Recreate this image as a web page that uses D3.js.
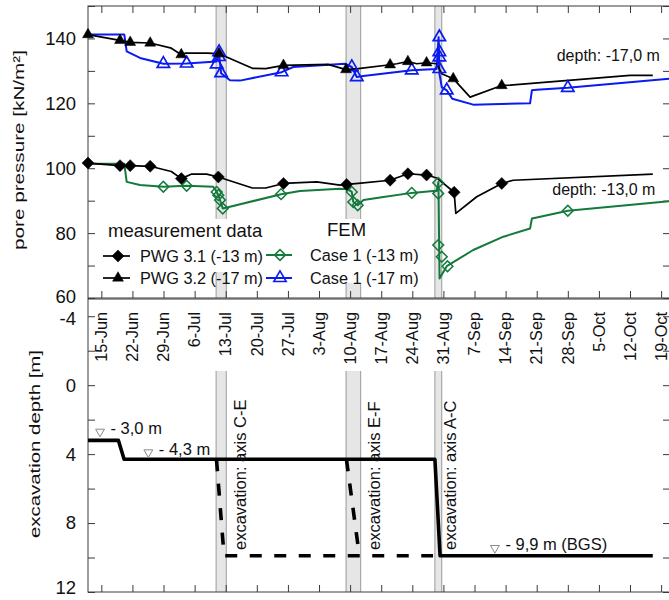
<!DOCTYPE html>
<html><head><meta charset="utf-8">
<script src="https://cdn.jsdelivr.net/npm/d3@7"></script>
<style>
body{margin:0;background:#fff;}
svg{display:block;font-family:"Liberation Sans",Arial,sans-serif;}
</style></head><body>
<svg id="c" width="669" height="600"></svg>
<script>
const YEAR = "2009";
// ---------- axis / tick data ----------
const xDomain = ["06-12 00", "10-21 00"];
const weekLabels = ["15-Jun","22-Jun","29-Jun","6-Jul","13-Jul","20-Jul","27-Jul","3-Aug","10-Aug","17-Aug","24-Aug","31-Aug","7-Sep","14-Sep","21-Sep","28-Sep","5-Oct","12-Oct","19-Oct"];
const topTicks = [60,70,80,90,100,110,120,130,140,150];
const topTickLabels = [60,80,100,120,140];
const botTicks = [-4,-2,0,2,4,6,8,10,12];
const botTickLabels = [-4,0,4,8,12];

// ---------- excavation windows (grey bands) ----------
const bandStart = ["07-10 20","08-09 02","08-29 02"];
const bandEnd   = ["07-13 03","08-12 09","08-30 15"];

// ---------- measurement PWG 3.1 (-13 m) ----------
const pwg31Dates = ["06-12 00","06-19 05","06-21 12","06-26 00","06-30 18","07-03 00","07-05 08","07-08 17","07-11 08","07-19 00","07-22 00","07-26 00","08-02 12","08-07 17","08-09 05","08-11 20","08-19 00","08-23 00","08-27 05","08-29 12","09-02 10","09-02 19","09-07 12","09-13 03","09-15 17","10-17 03"];
const pwg31Values = [101.6,100.8,100.8,100.6,99.0,96.8,98.2,98.2,97.3,93.9,93.9,95.3,95.8,94.8,95.0,95.3,96.3,98.3,97.9,97.0,92.6,86.1,91.2,95.3,96.3,98.2];
const pwg31MarkDates = ["06-12 00","06-19 05","06-21 12","06-26 00","07-03 00","07-11 08","07-26 00","08-09 05","08-19 00","08-23 00","08-27 05","09-02 10","09-13 03"];
const pwg31MarkValues = [101.6,100.8,100.8,100.6,96.8,97.3,95.3,95.0,96.3,98.3,97.9,92.6,95.3];

// ---------- measurement PWG 3.2 (-17 m) ----------
const pwg32Dates = ["06-12 00","06-19 05","06-21 12","06-26 00","06-30 18","07-03 00","07-04 00","07-08 17","07-11 12","07-19 00","07-22 00","07-26 00","08-05 00","08-09 02","08-11 20","08-19 00","08-20 12","08-23 00","08-25 00","08-27 05","08-29 12","08-30 15","09-02 05","09-06 00","09-13 03","09-15 00","10-12 00","10-17 03"];
const pwg32Values = [141.2,139.4,138.8,138.6,137.0,135.0,135.5,135.5,135.3,130.8,130.7,131.7,132.0,130.4,130.7,131.9,132.2,132.9,132.2,132.5,132.2,129.1,127.6,121.9,125.5,125.6,128.6,128.6];
const pwg32MarkDates = ["06-12 00","06-19 05","06-21 12","06-26 00","07-03 00","07-11 12","07-26 00","08-09 02","08-19 00","08-23 00","08-27 05","09-02 05","09-13 03"];
const pwg32MarkValues = [141.2,139.4,138.8,138.6,135.0,135.3,131.7,130.4,131.9,132.9,132.5,127.6,125.5];

// ---------- FEM Case 1 (-13 m) ----------
const fem13Dates = ["06-12 00","06-20 04","06-20 17","06-23 17","06-28 23","07-04 05","07-10 05","07-10 23","07-11 08","07-11 17","07-12 08","07-13 23","07-25 11","07-29 17","08-07 17","08-09 12","08-10 09","08-10 17","08-11 17","08-13 00","08-16 18","08-23 21","08-28 17","08-29 12","08-29 21","08-30 03","08-31 18","09-06 17","09-13 12","09-19 12","09-19 22","09-21 00","09-28 00","10-20 19"];
const fem13Values = [101.4,101.4,95.8,94.8,94.3,94.6,94.3,92.7,91.7,90.2,87.6,88.1,92.0,93.0,93.7,93.5,92.7,89.6,88.6,90.2,91.0,92.4,93.0,93.0,95.8,66.0,69.8,74.8,78.9,81.4,84.5,84.8,86.9,89.8];
const fem13MarkDates = ["06-28 23","07-04 05","07-10 23","07-11 08","07-11 17","07-12 08","07-25 11","08-10 09","08-10 17","08-11 17","08-23 21","08-29 20","08-29 20","08-29 20","08-30 15","08-31 22","09-28 00"];
const fem13MarkValues = [94.3,94.6,92.7,91.7,90.2,87.6,92.0,92.7,89.6,88.6,92.4,95.5,92.2,76.3,72.7,69.8,86.9];

// ---------- FEM Case 1 (-17 m) ----------
const fem17Dates = ["06-12 00","06-20 04","06-20 17","06-23 17","06-28 23","07-04 05","07-10 23","07-11 10","07-11 14","07-11 18","07-11 23","07-13 23","07-16 05","07-25 14","07-28 05","08-08 20","08-10 09","08-11 12","08-12 23","08-23 21","08-29 11","08-29 22","08-30 03","08-30 15","08-31 18","09-02 00","09-06 17","09-19 12","09-19 22","09-21 00","09-28 00","10-20 19"];
const fem17Values = [141.2,141.2,136.0,134.0,132.2,132.3,132.9,135.8,134.3,132.0,129.3,127.1,127.0,129.6,131.2,132.2,131.2,128.1,128.4,130.2,130.6,140.4,129.0,125.0,124.0,121.4,119.6,120.0,124.0,124.2,124.8,127.6];
const fem17MarkDates = ["06-28 23","07-04 05","07-10 23","07-11 12","07-11 12","07-11 23","07-25 14","08-10 09","08-11 12","08-23 21","08-30 02","08-30 02","08-30 02","08-30 02","08-31 18","09-28 00"];
const fem17MarkValues = [132.2,132.3,132.0,135.8,134.3,129.3,129.6,131.2,128.1,130.2,140.4,135.8,134.2,130.6,124.0,124.8];

// ---------- excavation depth ----------
const excDates = ["06-12 00","06-18 20","06-20 03","08-29 02","08-30 06","10-17 03"];
const excDepths = [3.2,3.2,4.3,4.3,9.9,9.9];
const excCEDates = ["07-10 22","07-12 15","08-28 16"];
const excCEDepths = [4.3,9.9,9.9];
const excEFDates = ["08-09 04","08-12 02"];
const excEFDepths = [4.3,9.9];

const levelDates = ["06-14 17","06-25 14","09-11 14"];
const levelDepths = [2.7,3.9,9.45];
const levelTexts = ["- 3,0 m","- 4,3 m","- 9,9 m (BGS)"];
const axisLabelDates = ["07-17 16","08-16 17","09-02 20"];
const axisLabelTexts = ["excavation: axis C-E","excavation: axis E-F","excavation: axis A-C"];

const depthLabelTexts = ["depth: -17,0 m","depth: -13,0 m"];
const depthLabelDates = ["09-25 12","09-24 12"];
const depthLabelValues = [133.0,91.7];

// ---------- drawing ----------
const parseT = d3.utcParse("%Y-%m-%d %H");
const t = s => parseT(YEAR + "-" + s);
const parseW = d3.utcParse("%d-%b-%Y");
const weekDates = weekLabels.map(s => parseW(s + "-" + YEAR));

const L = 88, R = 670;
const x = d3.scaleUtc().domain(xDomain.map(t)).range([L, R]);
const yT = d3.scaleLinear().domain([60,150]).range([298, 6]);
const yB = d3.scaleLinear().domain([-5,12]).range([299, 592]);

const svg = d3.select("#c");
const txtCol = "#111", axCol = "#3a3a3a";
const GREEN = "#137a3c", BLUE = "#0a1af2";

// grey bands
const bandG = svg.append("g");
bandStart.forEach((s, i) => {
  const x0 = x(t(s)), x1 = x(t(bandEnd[i]));
  [[yT(150), yT(60)], [371, yB(12)]].forEach(([a, b]) => {
    bandG.append("rect").attr("x", x0).attr("y", a).attr("width", x1 - x0).attr("height", b - a)
      .attr("fill", "#e6e6e6");
    [x0, x1].forEach(xx => bandG.append("line").attr("x1", xx).attr("x2", xx).attr("y1", a).attr("y2", b)
      .attr("stroke", "#9a9a9a").attr("stroke-width", 1));
  });
});

function styleAxis(g) {
  g.select(".domain").remove();
  g.selectAll(".tick line").attr("stroke", axCol).attr("stroke-width", 1);
  g.selectAll(".tick text").attr("fill", txtCol).attr("font-size", 18.5)
    .attr("font-family", "'Liberation Sans',Arial,sans-serif");
}
// top panel axes
const gTL = svg.append("g").attr("transform", `translate(${L},0)`)
  .call(d3.axisLeft(yT).tickValues(topTicks).tickSize(-7).tickPadding(12)
    .tickFormat(d => topTickLabels.includes(d) ? d : "")).call(styleAxis);
gTL.selectAll(".tick text").filter(d => d === 60).attr("dy", "0.22em");
svg.append("g").attr("transform", `translate(${R},0)`)
  .call(d3.axisRight(yT).tickValues(topTicks).tickSize(-7).tickFormat("")).call(styleAxis);
svg.append("g").attr("transform", `translate(0,${yT(150)})`)
  .call(d3.axisTop(x).tickValues(weekDates).tickSize(-7).tickFormat("")).call(styleAxis);
svg.append("g").attr("transform", `translate(0,${yT(60)})`)
  .call(d3.axisBottom(x).tickValues(weekDates).tickSize(-7).tickFormat("")).call(styleAxis);
// bottom panel axes
const gBL = svg.append("g").attr("transform", `translate(${L},0)`)
  .call(d3.axisLeft(yB).tickValues(botTicks).tickSize(-7).tickPadding(12)
    .tickFormat(d => botTickLabels.includes(d) ? d : "")).call(styleAxis);
gBL.selectAll(".tick text").filter(d => d === 12).attr("dy", "0.1em");
gBL.selectAll(".tick text").filter(d => d === -4).attr("dy", "0.45em");
svg.append("g").attr("transform", `translate(${R},0)`)
  .call(d3.axisRight(yB).tickValues(botTicks).tickSize(-7).tickFormat("")).call(styleAxis);
svg.append("g").attr("transform", `translate(0,${yB(12)})`)
  .call(d3.axisBottom(x).tickValues(weekDates).tickSize(-7).tickFormat("")).call(styleAxis);

// borders
svg.append("rect").attr("x", L).attr("y", yT(150)).attr("width", R - L).attr("height", yT(60) - yT(150))
  .attr("fill", "none").attr("stroke", axCol);
svg.append("rect").attr("x", L).attr("y", yB(-5)).attr("width", R - L).attr("height", yB(12) - yB(-5))
  .attr("fill", "none").attr("stroke", axCol);

// date labels
svg.append("g").selectAll("text").data(weekDates).join("text")
  .attr("transform", d => `translate(${x(d)},312) rotate(-90)`)
  .attr("dy", "0.35em").attr("text-anchor", "end").attr("font-size", 16.3).attr("fill", txtCol)
  .text((d, i) => weekLabels[i]);

// axis titles
svg.append("text").attr("transform", "translate(23.5,150) rotate(-90)")
  .attr("text-anchor", "middle").attr("font-size", 15.5).attr("fill", txtCol)
  .attr("textLength", 200).attr("lengthAdjust", "spacingAndGlyphs")
  .text("pore pressure [kN/m²]");
svg.append("text").attr("transform", "translate(40,444) rotate(-90)")
  .attr("text-anchor", "middle").attr("font-size", 15.5).attr("fill", txtCol)
  .attr("textLength", 188).attr("lengthAdjust", "spacingAndGlyphs")
  .text("excavation depth [m]");

// lines
const lineT = d3.line().x(d => x(d[0])).y(d => yT(d[1]));
const lineB = d3.line().x(d => x(d[0])).y(d => yB(d[1]));
const zipT = (ds, vs) => ds.map((d, i) => [t(d), vs[i]]);

const gData = svg.append("g");
gData.append("path").datum(zipT(fem13Dates, fem13Values)).attr("d", lineT)
  .attr("fill", "none").attr("stroke", GREEN).attr("stroke-width", 2).attr("stroke-linejoin", "round");
gData.append("path").datum(zipT(fem17Dates, fem17Values)).attr("d", lineT)
  .attr("fill", "none").attr("stroke", BLUE).attr("stroke-width", 2).attr("stroke-linejoin", "round");
gData.append("path").datum(zipT(pwg31Dates, pwg31Values)).attr("d", lineT)
  .attr("fill", "none").attr("stroke", "#000").attr("stroke-width", 1.7).attr("stroke-linejoin", "round");
gData.append("path").datum(zipT(pwg32Dates, pwg32Values)).attr("d", lineT)
  .attr("fill", "none").attr("stroke", "#000").attr("stroke-width", 1.7).attr("stroke-linejoin", "round");

const diamondFilled = d3.symbol().type(d3.symbolSquare).size(72);
const diamondOpen = d3.symbol().type(d3.symbolSquare).size(58);
const triFilled = d3.symbol().type(d3.symbolTriangle).size(52);
const triOpen = d3.symbol().type(d3.symbolTriangle).size(66);

function markers(pts, sym, rot, fill, stroke, sw) {
  gData.append("g").selectAll("path").data(pts).join("path")
    .attr("transform", d => `translate(${x(d[0])},${yT(d[1])}) rotate(${rot})`)
    .attr("d", sym).attr("fill", fill).attr("stroke", stroke).attr("stroke-width", sw);
}
markers(zipT(fem13MarkDates, fem13MarkValues), diamondOpen, 45, "none", GREEN, 1.5);
markers(zipT(fem17MarkDates, fem17MarkValues), triOpen, 0, "none", BLUE, 1.7);
markers(zipT(pwg31MarkDates, pwg31MarkValues), diamondFilled, 45, "#000", "#000", 0.5);
markers(zipT(pwg32MarkDates, pwg32MarkValues), triFilled, 0, "#000", "#000", 0.5);

// depth labels (top)
depthLabelTexts.forEach((s, i) => {
  svg.append("text").attr("x", x(t(depthLabelDates[i]))).attr("y", yT(depthLabelValues[i]))
    .attr("font-size", 16).attr("fill", txtCol).text(s);
});

// legend
svg.append("rect").attr("x", 95).attr("y", 219).attr("width", 170).attr("height", 53).attr("fill", "#fff");
svg.append("rect").attr("x", 262).attr("y", 219).attr("width", 168).attr("height", 64).attr("fill", "#fff");
svg.append("text").attr("x", 108).attr("y", 237).attr("font-size", 18.5).attr("fill", txtCol).text("measurement data");
svg.append("text").attr("x", 327).attr("y", 236).attr("font-size", 18.5).attr("fill", txtCol).text("FEM");
const legItems = [
  {x0:103, x1:130, xm:118, y:256, sym:diamondFilled, rot:45, fill:"#000", col:"#000", sw:1.7, tx:140, label:"PWG 3.1 (-13 m)"},
  {x0:103, x1:130, xm:118, y:278, sym:triFilled, rot:0, fill:"#000", col:"#000", sw:1.7, tx:140, label:"PWG 3.2 (-17 m)"},
  {x0:266, x1:292, xm:280, y:255, sym:diamondOpen, rot:45, fill:"none", col:GREEN, sw:2, tx:310, label:"Case 1 (-13 m)"},
  {x0:266, x1:292, xm:280, y:278, sym:triOpen, rot:0, fill:"none", col:BLUE, sw:2, tx:310, label:"Case 1 (-17 m)"}
];
legItems.forEach(d => {
  svg.append("line").attr("x1", d.x0).attr("x2", d.x1).attr("y1", d.y).attr("y2", d.y)
    .attr("stroke", d.col).attr("stroke-width", d.sw);
  svg.append("path").attr("transform", `translate(${d.xm},${d.y}) rotate(${d.rot})`).attr("d", d.sym)
    .attr("fill", d.fill).attr("stroke", d.col).attr("stroke-width", d.fill === "none" ? 1.6 : 0.5);
  svg.append("text").attr("x", d.tx).attr("y", d.y + 5.8).attr("font-size", 16.3).attr("fill", txtCol).text(d.label);
});

// bottom panel lines
const zipB = (ds, vs) => ds.map((d, i) => [t(d), vs[i]]);
svg.append("path").datum(zipB(excCEDates, excCEDepths)).attr("d", lineB)
  .attr("fill", "none").attr("stroke", "#000").attr("stroke-width", 3.6).attr("stroke-dasharray", "12,12.5");
svg.append("path").datum(zipB(excEFDates, excEFDepths)).attr("d", lineB)
  .attr("fill", "none").attr("stroke", "#000").attr("stroke-width", 3.6).attr("stroke-dasharray", "12,12.5");
svg.append("path").datum(zipB(excDates, excDepths)).attr("d", lineB)
  .attr("fill", "none").attr("stroke", "#000").attr("stroke-width", 3.6).attr("stroke-linejoin", "round");

// level annotations
const downTri = d3.symbol().type(d3.symbolTriangle).size(34);
levelDates.forEach((s, i) => {
  const px = x(t(s)), py = yB(levelDepths[i]);
  svg.append("path").attr("transform", `translate(${px},${py}) rotate(180)`).attr("d", downTri)
    .attr("fill", "#fff").attr("stroke", "#8a8a8a").attr("stroke-width", 1);
  svg.append("text").attr("x", px + 10.5).attr("y", py + 2.3).attr("font-size", 16.5).attr("fill", txtCol).text(levelTexts[i]);
});
axisLabelDates.forEach((s, i) => {
  svg.append("text").attr("transform", `translate(${x(t(s))},550) rotate(-90)`)
    .attr("font-size", 16.5).attr("fill", txtCol).text(axisLabelTexts[i]);
});
</script>
</body></html>
